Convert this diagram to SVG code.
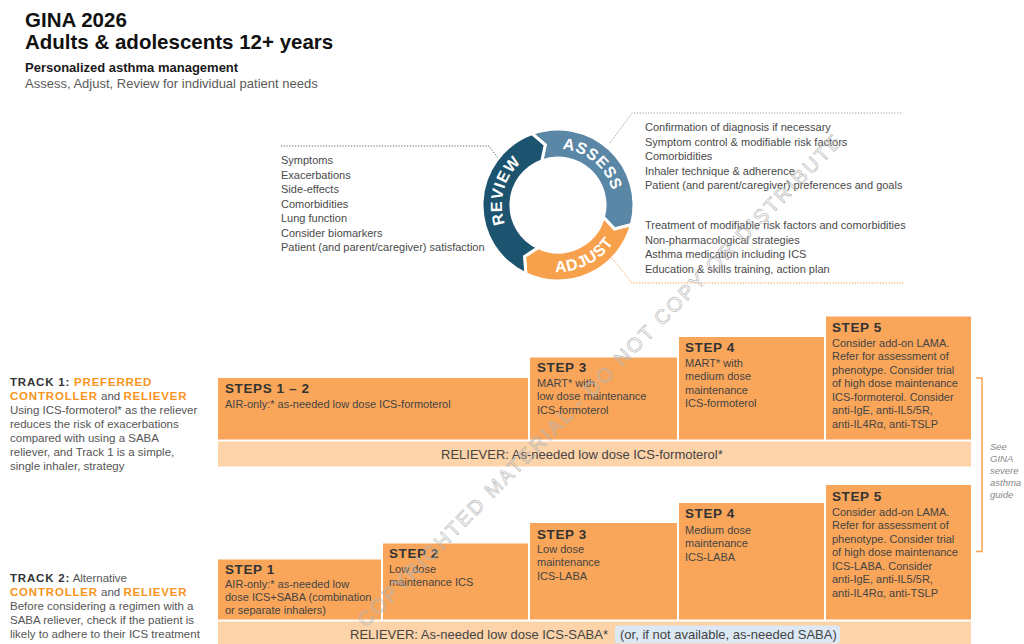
<svg xmlns="http://www.w3.org/2000/svg" width="1024" height="644" viewBox="0 0 1024 644">
  <style>
    text { font-family: "Liberation Sans", Arial, Helvetica, sans-serif; }
    .h1 { font-size: 20.5px; font-weight: bold; fill: #111; }
    .h2 { font-size: 13px; font-weight: bold; fill: #1a1a1a; }
    .sub { font-size: 13px; fill: #5a5a5a; }
    .list { font-size: 11px; fill: #4a4a4a; }
    .box { fill: #f9a65a; }
    .bar { fill: #fdd3a9; }
    .st { font-size: 13.5px; font-weight: bold; fill: #333; letter-spacing: 0.6px; }
    .bt { font-size: 11px; fill: #444; }
    .rel { font-size: 13px; fill: #444; }
    .trk { font-size: 11.5px; font-weight: bold; letter-spacing: 0.8px; fill: #333; }
    .org { fill: #f7941d; }
    .desc { font-size: 11.5px; fill: #555; }
    .ring { stroke: #fff; stroke-width: 3; stroke-linejoin: miter; }
    .rl { font-size: 16px; font-weight: bold; fill: #fff; letter-spacing: 0.8px; }
    .dot { fill: none; stroke-width: 1; stroke-dasharray: 1.2 1.6; }
    .note { font-size: 9.5px; font-style: italic; fill: #888; }
  </style>
  <defs>
    <path id="arcAssess" d="M522.0,162.1 A56,56 0 0 1 606.5,233.0"/>
    <path id="arcAdjust" d="M504.5,245.3 A67,67 0 0 0 622.1,185.4"/>
    <path id="arcReview" d="M534.3,255.8 A56,56 0 0 1 562.9,149.2"/>
  </defs>

  <rect width="1024" height="644" fill="#fff"/>

  <!-- header -->
  <g id="header">
    <text class="h1" x="25" y="27">GINA 2026</text>
    <text class="h1" x="25" y="49">Adults &amp; adolescents 12+ years</text>
    <text class="h2" x="25" y="72">Personalized asthma management</text>
    <text class="sub" x="25" y="88">Assess, Adjust, Review for individual patient needs</text>
  </g>

  <!-- management cycle -->
  <g id="cycle">
    <path class="ring" fill="#5b87a6" d="M532.0,133.6 A76,76 0 0 1 631.4,224.7 L614.6,229.0 L603.4,217.2 A47,47 0 0 0 541.9,160.8 L545.2,144.8 Z"/>
    <path class="ring" fill="#f7a14c" d="M631.4,224.7 A76,76 0 0 1 525.9,273.9 L524.5,256.6 L538.1,247.6 A47,47 0 0 0 603.4,217.2 L614.6,229.0 Z"/>
    <path class="ring" fill="#1c5470" d="M525.9,273.9 A76,76 0 0 1 532.0,133.6 L545.2,144.8 L541.9,160.8 A47,47 0 0 0 538.1,247.6 L524.5,256.6 Z"/>
    <text class="rl"><textPath href="#arcAssess" startOffset="50%" text-anchor="middle">ASSESS</textPath></text>
    <text class="rl"><textPath href="#arcAdjust" startOffset="50%" text-anchor="middle">ADJUST</textPath></text>
    <text class="rl"><textPath href="#arcReview" startOffset="50%" text-anchor="middle">REVIEW</textPath></text>
  </g>

  <g id="review-list">
    <text class="list" x="281" y="164">Symptoms</text>
    <text class="list" x="281" y="178.5">Exacerbations</text>
    <text class="list" x="281" y="193">Side-effects</text>
    <text class="list" x="281" y="207.5">Comorbidities</text>
    <text class="list" x="281" y="222">Lung function</text>
    <text class="list" x="281" y="236.5">Consider biomarkers</text>
    <text class="list" x="281" y="251">Patient (and parent/caregiver) satisfaction</text>
  </g>

  <g id="assess-list">
    <text class="list" x="645" y="131">Confirmation of diagnosis if necessary</text>
    <text class="list" x="645" y="145.5">Symptom control &amp; modifiable risk factors</text>
    <text class="list" x="645" y="160">Comorbidities</text>
    <text class="list" x="645" y="174.5">Inhaler technique &amp; adherence</text>
    <text class="list" x="645" y="189">Patient (and parent/caregiver) preferences and goals</text>
  </g>

  <g id="adjust-list">
    <text class="list" x="645" y="229">Treatment of modifiable risk factors and comorbidities</text>
    <text class="list" x="645" y="243.5">Non-pharmacological strategies</text>
    <text class="list" x="645" y="258">Asthma medication including ICS</text>
    <text class="list" x="645" y="272.5">Education &amp; skills training, action plan</text>
  </g>

  <!-- leader lines from the cycle to the lists -->
  <g id="connectors">
    <path class="dot" stroke="#4f6677" d="M281,146 H489 L498,158"/>
    <path class="dot" stroke="#9a9a9a" d="M610,143 L632,113 H903"/>
    <path class="dot" stroke="#f29a45" d="M612,258 L632,283 H905"/>
  </g>

  <!-- track 1 -->
  <g id="track1-label">
    <text class="trk" x="10" y="385.5">TRACK 1: <tspan class="org">PREFERRED</tspan></text>
    <text class="trk" x="10" y="399.5"><tspan class="org">CONTROLLER</tspan><tspan font-weight="normal" fill="#555" letter-spacing="0"> and </tspan><tspan class="org">RELIEVER</tspan></text>
    <text class="desc" x="10" y="413.5">Using ICS-formoterol* as the reliever</text>
    <text class="desc" x="10" y="427.5">reduces the risk of exacerbations</text>
    <text class="desc" x="10" y="442">compared with using a SABA</text>
    <text class="desc" x="10" y="456">reliever, and Track 1 is a simple,</text>
    <text class="desc" x="10" y="470">single inhaler, strategy</text>
  </g>

  <g id="t1-steps12">
    <rect class="box" x="218" y="378" width="310" height="61.5"/>
    <text class="st" x="225" y="392.5">STEPS 1 – 2</text>
    <text class="bt" x="225" y="407.5">AIR-only:* as-needed low dose ICS-formoterol</text>
  </g>
  <g id="t1-step3">
    <rect class="box" x="530" y="357.5" width="147" height="82"/>
    <text class="st" x="537" y="371.5">STEP 3</text>
    <text class="bt" x="537" y="386.5">MART* with</text>
    <text class="bt" x="537" y="400">low dose maintenance</text>
    <text class="bt" x="537" y="413.5">ICS-formoterol</text>
  </g>
  <g id="t1-step4">
    <rect class="box" x="679" y="337" width="145" height="102.5"/>
    <text class="st" x="685" y="352">STEP 4</text>
    <text class="bt" x="685" y="366.5">MART* with</text>
    <text class="bt" x="685" y="380">medium dose</text>
    <text class="bt" x="685" y="393.5">maintenance</text>
    <text class="bt" x="685" y="407">ICS-formoterol</text>
  </g>
  <g id="t1-step5">
    <rect class="box" x="826" y="316.5" width="145" height="123"/>
    <text class="st" x="832" y="332">STEP 5</text>
    <text class="bt" x="832" y="346.5">Consider add-on LAMA.</text>
    <text class="bt" x="832" y="360">Refer for assessment of</text>
    <text class="bt" x="832" y="373.5">phenotype. Consider trial</text>
    <text class="bt" x="832" y="387">of high dose maintenance</text>
    <text class="bt" x="832" y="400.5">ICS-formoterol. Consider</text>
    <text class="bt" x="832" y="414">anti-IgE, anti-IL5/5R,</text>
    <text class="bt" x="832" y="427.5">anti-IL4Rα, anti-TSLP</text>
  </g>
  <g id="t1-reliever">
    <rect class="bar" x="218" y="441.5" width="753" height="25"/>
    <text class="rel" x="441" y="459">RELIEVER: As-needed low dose ICS-formoterol*</text>
  </g>

  <!-- track 2 -->
  <g id="track2-label">
    <text class="trk" x="10" y="581.5">TRACK 2:<tspan font-weight="normal" fill="#555" letter-spacing="0"> Alternative</tspan></text>
    <text class="trk" x="10" y="595.5"><tspan class="org">CONTROLLER</tspan><tspan font-weight="normal" fill="#555" letter-spacing="0"> and </tspan><tspan class="org">RELIEVER</tspan></text>
    <text class="desc" x="10" y="609.5">Before considering a regimen with a</text>
    <text class="desc" x="10" y="623.5">SABA reliever, check if the patient is</text>
    <text class="desc" x="10" y="637.5">likely to adhere to their ICS treatment</text>
  </g>

  <g id="t2-step1">
    <rect class="box" x="218" y="559.5" width="163" height="60"/>
    <text class="st" x="225" y="574">STEP 1</text>
    <text class="bt" x="225" y="588">AIR-only:* as-needed low</text>
    <text class="bt" x="225" y="601">dose ICS+SABA (combination</text>
    <text class="bt" x="225" y="614">or separate inhalers)</text>
  </g>
  <g id="t2-step2">
    <rect class="box" x="383" y="543.5" width="145" height="76"/>
    <text class="st" x="389" y="557.5">STEP 2</text>
    <text class="bt" x="389" y="573">Low dose</text>
    <text class="bt" x="389" y="586">maintenance ICS</text>
  </g>
  <g id="t2-step3">
    <rect class="box" x="530" y="523" width="147" height="96.5"/>
    <text class="st" x="537" y="538.5">STEP 3</text>
    <text class="bt" x="537" y="552.5">Low dose</text>
    <text class="bt" x="537" y="566">maintenance</text>
    <text class="bt" x="537" y="579.5">ICS-LABA</text>
  </g>
  <g id="t2-step4">
    <rect class="box" x="679" y="503" width="145" height="116.5"/>
    <text class="st" x="685" y="518">STEP 4</text>
    <text class="bt" x="685" y="533.5">Medium dose</text>
    <text class="bt" x="685" y="547">maintenance</text>
    <text class="bt" x="685" y="560.5">ICS-LABA</text>
  </g>
  <g id="t2-step5">
    <rect class="box" x="826" y="485" width="145" height="134.5"/>
    <text class="st" x="832" y="501">STEP 5</text>
    <text class="bt" x="832" y="515.5">Consider add-on LAMA.</text>
    <text class="bt" x="832" y="529">Refer for assessment of</text>
    <text class="bt" x="832" y="542.5">phenotype. Consider trial</text>
    <text class="bt" x="832" y="556">of high dose maintenance</text>
    <text class="bt" x="832" y="569.5">ICS-LABA. Consider</text>
    <text class="bt" x="832" y="583">anti-IgE, anti-IL5/5R,</text>
    <text class="bt" x="832" y="596.5">anti-IL4Rα, anti-TSLP</text>
  </g>
  <g id="t2-reliever">
    <rect class="bar" x="218" y="621.5" width="753" height="25"/>
    <rect x="615" y="625.5" width="225" height="18" rx="3" fill="#dce8f3"/>
    <text class="rel" x="350" y="638.5">RELIEVER: As-needed low dose ICS-SABA*</text>
    <text class="rel" x="620" y="638.5">(or, if not available, as-needed SABA)</text>
  </g>

  <!-- severe asthma bracket -->
  <g id="severe-note">
    <path d="M976,378 H982 V551.5 H976" fill="none" stroke="#f7a14c" stroke-width="1.5"/>
    <text class="note" x="990" y="449.5">See</text>
    <text class="note" x="990" y="461.7">GINA</text>
    <text class="note" x="990" y="473.9">severe</text>
    <text class="note" x="990" y="486.1">asthma</text>
    <text class="note" x="990" y="498.3">guide</text>
  </g>

  <!-- watermark -->
  <text x="600" y="387" text-anchor="middle" transform="rotate(-45.5 600 380)" font-size="20" letter-spacing="2.4" fill="none" stroke="#b3b3b3" stroke-width="0.6">COPYRIGHTED MATERIAL - DO NOT COPY OR DISTRIBUTE</text>
</svg>
